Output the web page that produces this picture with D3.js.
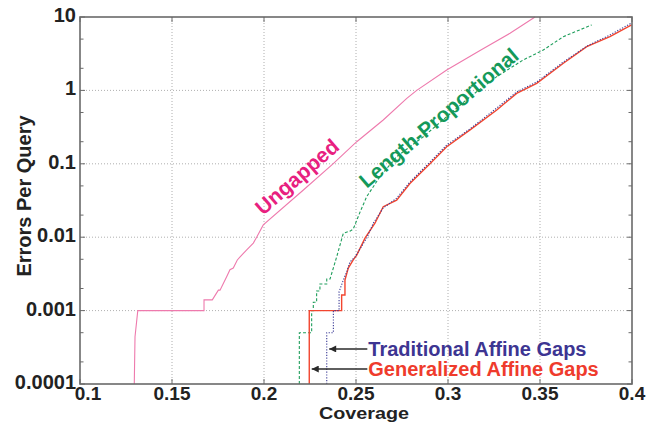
<!DOCTYPE html>
<html>
<head>
<meta charset="utf-8">
<script src="https://cdn.jsdelivr.net/npm/d3@7"></script>
<style>
    body { margin: 0; background: #fff; }
    text { font-family: "Liberation Sans", Arial, sans-serif; font-weight: bold; }
</style>
</head>
<body>
<svg id="chart" width="655" height="423"></svg>
<script>
'use strict';

var xTicks = [0.1, 0.15, 0.2, 0.25, 0.3, 0.35, 0.4];
var xTickLabels = ['0.1', '0.15', '0.2', '0.25', '0.3', '0.35', '0.4'];
var yTicks = [0.0001, 0.001, 0.01, 0.1, 1, 10];
var yTickLabels = ['0.0001', '0.001', '0.01', '0.1', '1', '10'];

// [coverage, errors per query]
var ungapped = [
    [0.1295, 0.0001], [0.1299, 0.00044], [0.1314, 0.001], [0.1674, 0.001],
    [0.1674, 0.0014], [0.1719, 0.0014], [0.1752, 0.0019], [0.1761, 0.0019],
    [0.1797, 0.0029], [0.1815, 0.0036], [0.1833, 0.0038], [0.1855, 0.0049],
    [0.187, 0.0054], [0.1906, 0.0067], [0.1942, 0.0083], [0.196, 0.01],
    [0.1996, 0.0147], [0.2214, 0.044], [0.2375, 0.1], [0.2504, 0.2],
    [0.2648, 0.395], [0.2776, 0.78], [0.283, 1.0], [0.2993, 1.9],
    [0.3174, 3.5], [0.3337, 6.0], [0.3473, 10]
];
var lengthProportional = [
    [0.2192, 0.0001], [0.2192, 0.0005], [0.2259, 0.0005], [0.2259, 0.001],
    [0.2268, 0.001], [0.2268, 0.0013], [0.2286, 0.0013], [0.2286, 0.00185],
    [0.2304, 0.00185], [0.2304, 0.0023], [0.2341, 0.0023], [0.2341, 0.0027],
    [0.2359, 0.0027], [0.2395, 0.0054], [0.2431, 0.0113], [0.2467, 0.0121],
    [0.2485, 0.0129], [0.2522, 0.022], [0.2558, 0.0356], [0.263, 0.0667],
    [0.2721, 0.125], [0.2866, 0.234], [0.2993, 0.438], [0.312, 0.82],
    [0.3265, 1.54], [0.3409, 2.6], [0.3518, 3.55], [0.3627, 5.4], [0.3781, 7.8]
];
var traditionalAffine = [
    [0.2341, 0.0001], [0.2341, 0.0005], [0.2377, 0.0005], [0.2377, 0.001],
    [0.2408, 0.001], [0.2408, 0.0018], [0.2431, 0.0026], [0.245, 0.0034],
    [0.2467, 0.0046], [0.2495, 0.0054], [0.2558, 0.0097], [0.2594, 0.0155],
    [0.2648, 0.025], [0.2721, 0.034], [0.2793, 0.0565], [0.2902, 0.106],
    [0.2993, 0.18], [0.312, 0.3], [0.3265, 0.575], [0.3373, 0.95],
    [0.3482, 1.3], [0.3627, 2.44], [0.3754, 4.0], [0.388, 5.7], [0.3998, 8.3]
];
var generalizedAffine = [
    [0.2246, 0.0001], [0.2246, 0.001], [0.2422, 0.001], [0.2422, 0.00163],
    [0.244, 0.00163], [0.244, 0.0026], [0.2458, 0.0038], [0.2485, 0.0049],
    [0.2504, 0.0057], [0.2549, 0.0097], [0.2603, 0.0155], [0.2648, 0.026],
    [0.2721, 0.032], [0.2793, 0.054], [0.2902, 0.1], [0.2993, 0.171],
    [0.312, 0.29], [0.3265, 0.54], [0.3373, 0.91], [0.3482, 1.25],
    [0.3627, 2.34], [0.3754, 3.94], [0.388, 5.4], [0.3998, 7.8]
];

var series = [
    { data: ungapped, color: '#ee7aad', dash: null, width: 1.1 },
    { data: lengthProportional, color: '#1f9e5c', dash: '3,2', width: 1.1 },
    { data: generalizedAffine, color: '#f2452f', dash: null, width: 1.4 },
    { data: traditionalAffine, color: '#3a3a96', dash: '1.2,1.6', width: 1.1 }
];

var margin = { left: 80, right: 23, top: 17, bottom: 39 };
var width = 655, height = 423;

var svg = d3.select('#chart');

var x = d3.scaleLinear()
    .domain([0.1, 0.4])
    .range([margin.left, width - margin.right]);

var y = d3.scaleLog()
    .domain([0.0001, 10])
    .range([height - margin.bottom, margin.top]);

var minorTicks = [];
yTicks.slice(0, -1).forEach(function (t) {
    minorTicks.push(t * 2, t * 5);
});

// grid
var grid = svg.append('g')
    .style('stroke', '#9a9a9a')
    .style('stroke-width', 0.8)
    .style('stroke-dasharray', '1,2');

grid.selectAll('.gx').data(xTicks.slice(1, -1)).enter().append('line')
    .attr('x1', x).attr('x2', x)
    .attr('y1', y.range()[0]).attr('y2', y.range()[1]);

grid.selectAll('.gy').data(yTicks.slice(1, -1)).enter().append('line')
    .attr('x1', x.range()[0]).attr('x2', x.range()[1])
    .attr('y1', y).attr('y2', y);

// curves
var line = d3.line()
    .x(function (d) { return x(d[0]); })
    .y(function (d) { return y(d[1]); });

svg.append('g').selectAll('path')
    .data(series)
    .enter().append('path')
    .attr('d', function (s) { return line(s.data); })
    .style('fill', 'none')
    .style('stroke', function (s) { return s.color; })
    .style('stroke-width', function (s) { return s.width; })
    .style('stroke-dasharray', function (s) { return s.dash; });

// frame and ticks
var axisColor = '#6a6a6a';

svg.append('rect')
    .attr('x', x.range()[0])
    .attr('y', y.range()[1])
    .attr('width', x.range()[1] - x.range()[0])
    .attr('height', y.range()[0] - y.range()[1])
    .style('fill', 'none')
    .style('stroke', axisColor)
    .style('stroke-width', 1.6);

var ticks = svg.append('g')
    .style('stroke', axisColor)
    .style('stroke-width', 1);

[y.range()[0], y.range()[1]].forEach(function (edge, i) {
    var dir = i === 0 ? -1 : 1;
    ticks.selectAll(null).data(xTicks).enter().append('line')
        .attr('x1', x).attr('x2', x)
        .attr('y1', edge).attr('y2', edge + dir * 5);
});

[x.range()[0], x.range()[1]].forEach(function (edge, i) {
    var dir = i === 0 ? 1 : -1;
    ticks.selectAll(null).data(yTicks).enter().append('line')
        .attr('x1', edge).attr('x2', edge + dir * 5)
        .attr('y1', y).attr('y2', y);
    ticks.selectAll(null).data(minorTicks).enter().append('line')
        .attr('x1', edge).attr('x2', edge + dir * 3.5)
        .attr('y1', y).attr('y2', y);
});

// tick labels
svg.append('g').selectAll('text')
    .data(xTicks)
    .enter().append('text')
    .attr('x', function (d, i) { return x(d) + (i === 0 ? 8 : 0); })
    .attr('y', y.range()[0] + 15.5)
    .attr('text-anchor', 'middle')
    .style('font-size', '19px')
    .style('fill', '#222')
    .text(function (d, i) { return xTickLabels[i]; });

svg.append('g').selectAll('text')
    .data(yTicks)
    .enter().append('text')
    .attr('x', x.range()[0] - 4)
    .attr('y', function (d) { return y(d) + 5; })
    .attr('text-anchor', 'end')
    .style('font-size', '20px')
    .style('fill', '#222')
    .text(function (d, i) { return yTickLabels[i]; });

// axis titles
svg.append('text')
    .attr('x', 364)
    .attr('y', 419)
    .attr('text-anchor', 'middle')
    .attr('textLength', 90)
    .attr('lengthAdjust', 'spacingAndGlyphs')
    .style('font-size', '17px')
    .style('fill', '#222')
    .text('Coverage');

svg.append('text')
    .attr('transform', 'translate(31,196) rotate(-90)')
    .attr('text-anchor', 'middle')
    .style('font-size', '20px')
    .style('fill', '#222')
    .text('Errors Per Query');

// curve labels
var curveLabels = [
    { text: 'Ungapped', at: [0.1995, 0.0195], angle: -41, color: '#e8207f' },
    { text: 'Length-Proportional', at: [0.2558, 0.0454], angle: -40.5, color: '#14995a' }
];

svg.append('g').selectAll('text')
    .data(curveLabels)
    .enter().append('text')
    .attr('transform', function (d) {
        return 'translate(' + x(d.at[0]) + ',' + y(d.at[1]) + ') rotate(' + d.angle + ')';
    })
    .style('font-size', '21px')
    .style('fill', function (d) { return d.color; })
    .text(function (d) { return d.text; });

// arrow annotations
svg.append('defs').append('marker')
    .attr('id', 'arrow')
    .attr('viewBox', '0 0 10 10')
    .attr('refX', 10).attr('refY', 5)
    .attr('markerWidth', 9).attr('markerHeight', 7)
    .attr('markerUnits', 'userSpaceOnUse')
    .attr('orient', 'auto')
    .append('path')
    .attr('d', 'M0,0 L10,5 L0,10 Z')
    .style('fill', '#2a2a2a');

var arrows = [
    { text: 'Traditional Affine Gaps', from: 0.2567, to: 0.2349, err: 0.0003, color: '#3d3592' },
    { text: 'Generalized Affine Gaps', from: 0.2567, to: 0.2254, err: 0.00016, color: '#ef3b2c' }
];

var ann = svg.append('g').selectAll('g')
    .data(arrows)
    .enter().append('g');

ann.append('line')
    .attr('x1', function (d) { return x(d.from) - 1; })
    .attr('x2', function (d) { return x(d.to) + 1; })
    .attr('y1', function (d) { return y(d.err); })
    .attr('y2', function (d) { return y(d.err); })
    .attr('marker-end', 'url(#arrow)')
    .style('stroke', '#2a2a2a')
    .style('stroke-width', 1.5);

ann.append('text')
    .attr('x', function (d) { return x(d.from); })
    .attr('y', function (d) { return y(d.err) + 7; })
    .style('font-size', '20px')
    .style('fill', function (d) { return d.color; })
    .text(function (d) { return d.text; });
</script>
</body>
</html>
